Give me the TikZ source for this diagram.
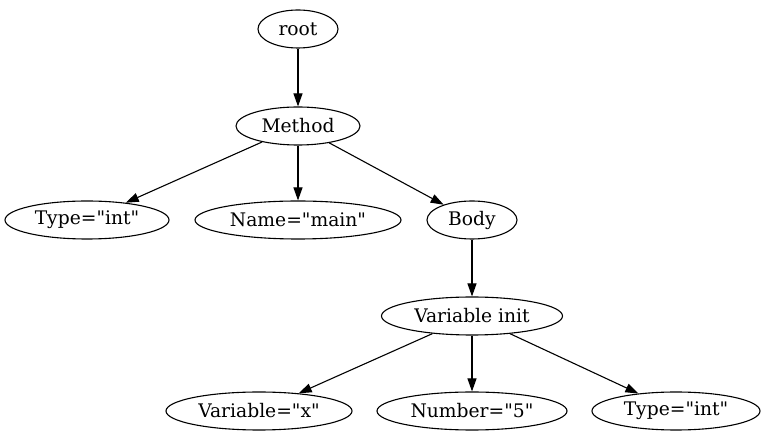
\documentclass[tikz,border=0pt]{standalone}
\usepackage{fontspec}
\setmainfont{DejaVu Serif}
\usetikzlibrary{shapes.geometric, arrows.meta, positioning}

\begin{document}
\begin{tikzpicture}[
        x=1pt, y=-1pt,
        leaf/.style={ellipse, draw=black, line width=1.1pt, minimum height=38pt, inner sep=0pt, font=\fontsize{18.7}{21}\selectfont},
        arrow/.style={-{Triangle[length=13pt, width=9pt]}, black, line width=1.1pt}
    ]
        \useasboundingbox (0,0) rectangle (764,443);
        \node[leaf, minimum width=80pt] (root) at (298,29) {root};
        \node[leaf, minimum width=124pt] (method) at (298,126) {Method};
        \node[leaf, minimum width=164pt] (type) at (87,220) {Type=\textquotedbl int\textquotedbl};
        \node[leaf, minimum width=206pt] (name) at (298,220) {Name=\textquotedbl main\textquotedbl};
        \node[leaf, minimum width=90pt] (body) at (472,220) {Body};
        \node[leaf, minimum width=181pt] (varinit) at (472,316) {Variable init};
        \node[leaf, minimum width=186pt] (var) at (259,411) {Variable=\textquotedbl x\textquotedbl};
        \node[leaf, minimum width=190pt] (num) at (472,411) {Number=\textquotedbl 5\textquotedbl};
        \node[leaf, minimum width=168pt] (vartype) at (676,411) {Type=\textquotedbl int\textquotedbl};
        
        \draw[arrow] (root) -- (method);
        \draw[arrow] (method) -- (type);
        \draw[arrow] (method) -- (name);
        \draw[arrow] (method) -- (body);
        \draw[arrow] (body) -- (varinit);
        \draw[arrow] (varinit) -- (var);
        \draw[arrow] (varinit) -- (num);
        \draw[arrow] (varinit) -- (vartype);
    \end{tikzpicture}
\end{document}
